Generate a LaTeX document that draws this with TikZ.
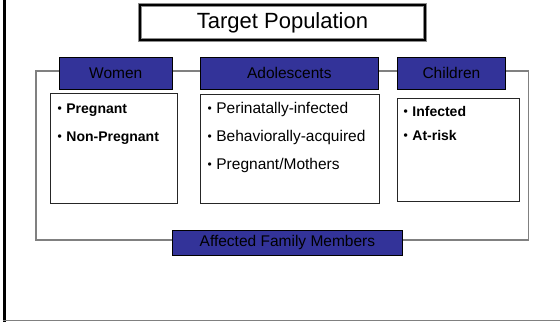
\documentclass[tikz,border=0pt]{standalone}
\usepackage{fontspec}
\setmainfont{Liberation Sans}
\definecolor{headblue}{RGB}{51,51,153}
\newcommand{\itembullet}{\raisebox{0.5pt}{\fontsize{12}{12}\selectfont\textbullet}\hspace{4.5pt}}
\begin{document}
\begin{tikzpicture}[x=1pt, y=-1pt,
    head node/.style={draw=black, fill=headblue, line width=0.8pt, inner sep=0pt, minimum height=32pt},
    list box/.style={draw=black!85, line width=0.9pt, inner sep=0pt},
    item node/.style={anchor=base west, inner sep=0pt},
    frame line/.style={draw=black!50, line width=1.4pt}]
            \tikzstyle{every node}=[font=\fontsize{15.5}{18}\selectfont]

              \useasboundingbox (0,0) rectangle (560,322);
              \draw[line width=3pt] (4.5,0) -- (4.5,322);
              \draw[frame line] (3,320.7) -- (560,320.7);
              \draw[frame line] (36,71) rectangle (528.6,240);

              \node[draw=black, line width=2pt, preaction={draw=black!45, line width=4pt},
                    minimum width=285pt, minimum height=35pt, font=\fontsize{22}{26}\selectfont] (title) at (282.5,22.7) {Target Population};

              \node[head node, minimum width=113.5pt] (women) at (115.8,73) {Women};
              \node[head node, minimum width=178.6pt] (adol) at (289.3,73) {Adolescents};
              \node[head node, minimum width=108.7pt] (child) at (451.4,73) {Children};
              \node[head node, minimum width=230pt, minimum height=25.7pt] (family) at (287.4,242.8) {Affected Family Members};

              \node[list box, minimum width=127pt, minimum height=110pt] (wbox) at (113.5,148) {};
              \node[list box, minimum width=179pt, minimum height=109pt] (abox) at (289.5,148.5) {};
              \node[list box, minimum width=122pt, minimum height=103pt] (cbox) at (458,149.5) {};

              \node[item node, font=\bfseries\fontsize{14}{16}\selectfont] (w1) at (57.5,113.3) {\itembullet Pregnant};
              \node[item node, font=\bfseries\fontsize{14}{16}\selectfont] (w2) at (57.5,141) {\itembullet Non-Pregnant};
              \node[item node] (a1) at (207.5,113.3) {\itembullet Perinatally-infected};
              \node[item node] (a2) at (207.5,141) {\itembullet Behaviorally-acquired};
              \node[item node] (a3) at (207.5,169) {\itembullet Pregnant/Mothers};
              \node[item node, font=\bfseries\fontsize{14}{16}\selectfont] (c1) at (403.5,116) {\itembullet Infected};
              \node[item node, font=\bfseries\fontsize{14}{16}\selectfont] (c2) at (403.5,140.3) {\itembullet At-risk};

            \end{tikzpicture}
\end{document}
